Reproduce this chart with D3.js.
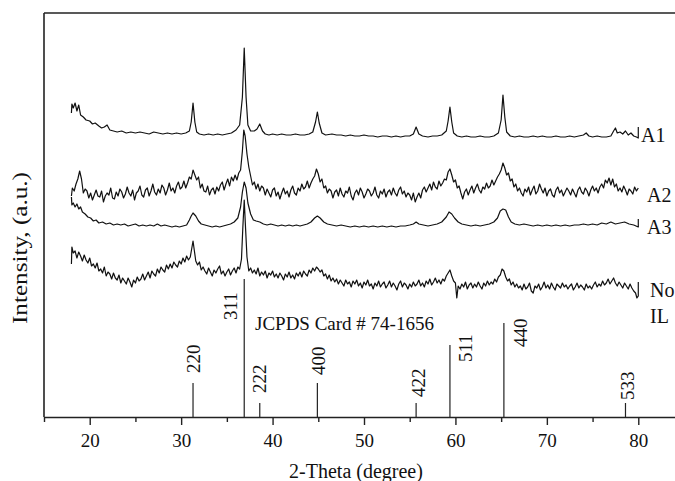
<!DOCTYPE html>
<html>
<head>
<meta charset="utf-8">
<script src="https://cdn.jsdelivr.net/npm/d3@7"></script>
<style>
  html, body { margin: 0; padding: 0; background: #fff; }
  svg { display: block; }
  text { font-family: "Liberation Serif", "Times New Roman", serif; fill: #111; }
</style>
</head>
<body>
<svg id="chart" width="675" height="481"></svg>
<script>
// ---------------- DATA ----------------
const majorTicks = [20, 30, 40, 50, 60, 70, 80];
const minorTicks = [15, 25, 35, 45, 55, 65, 75];
const seriesNames = ["A1", "A2", "A3", "No IL"];

// [2-theta, intensity (a.u.)]
const seriesA1 = [
  [18.0,304],[18.05,313],[18.2,309],[18.4,314],[18.6,306],[18.8,312],[19.0,302],[19.3,300],[19.6,297],
  [20.0,296],[20.3,293],[20.6,294],[21.0,291],[21.3,289],[21.6,290],[21.9,292],[22.2,287],[22.6,286],
  [23.0,285],[23.5,286],[24.0,284],[24.5,285],[25.0,284],[25.5,285],[26.0,284],[26.5,283],[27.0,285],
  [27.5,284],[28.0,283],[28.5,284],[29.0,283],[29.5,284],[30.0,283],[30.5,284],[30.9,286],[31.1,295],
  [31.3,314],[31.5,295],[31.7,285],[32.0,283],[32.5,282],[33.0,283],[33.5,282],[34.0,283],[34.5,282],
  [35.0,283],[35.5,284],[36.0,287],[36.4,292],[36.7,320],[36.9,369],[37.1,320],[37.3,292],[37.6,286],
  [38.0,286],[38.3,288],[38.6,293],[38.9,286],[39.2,283],[39.6,282],[40.0,283],[40.5,282],[41.0,283],
  [41.5,282],[42.0,282],[42.5,283],[43.0,282],[43.5,282],[44.0,283],[44.4,285],[44.7,295],[44.9,305],
  [45.1,294],[45.4,284],[45.8,282],[46.5,283],[47.0,282],[47.5,282],[48.0,281],[48.5,282],[49.0,281],
  [49.5,281],[50.0,282],[50.5,281],[51.0,281],[51.5,280],[52.0,281],[52.5,281],[53.0,280],[53.5,281],
  [54.0,280],[54.5,281],[55.0,281],[55.4,283],[55.7,290],[56.0,283],[56.4,281],[57.0,280],[57.5,281],
  [58.0,281],[58.5,282],[59.0,286],[59.2,296],[59.4,310],[59.6,295],[59.8,284],[60.2,281],[60.7,280],
  [61.2,281],[61.7,280],[62.2,280],[62.7,281],[63.2,280],[63.7,280],[64.2,281],[64.7,284],[65.0,297],
  [65.2,322],[65.4,300],[65.6,285],[66.0,281],[66.5,280],[67.0,281],[67.5,280],[68.0,280],[68.5,281],
  [69.0,280],[69.5,281],[70.0,280],[70.5,280],[71.0,281],[71.5,280],[72.0,280],[72.5,281],[73.0,280],
  [73.5,281],[74.0,282],[74.3,284],[74.6,281],[75.0,280],[75.5,281],[76.0,280],[76.5,280],[77.0,281],
  [77.3,286],[77.5,289],[77.7,284],[78.0,285],[78.3,283],[78.6,286],[78.9,282],[79.2,284],[79.5,281],
  [79.8,280],[80.0,279],[80.0,290]
];

const seriesA2 = [
  [18.0,221],[18.1,229],[18.3,226],[18.5,233],[18.7,238],[18.9,246],[19.1,238],[19.3,224],[19.5,228],
  [19.7,226],[19.9,219],[20.1,224],[20.3,217],[20.5,222],[20.7,227],[20.9,221],[21.1,220],[21.3,226],
  [21.5,215],[21.7,221],[21.9,224],[22.1,222],[22.3,229],[22.5,219],[22.7,218],[22.9,225],[23.1,221],
  [23.3,228],[23.5,225],[23.7,219],[23.9,223],[24.1,230],[24.3,224],[24.5,221],[24.7,227],[24.9,217],
  [25.1,224],[25.3,226],[25.5,231],[25.7,222],[25.9,220],[26.1,227],[26.3,229],[26.5,221],[26.7,226],
  [26.9,233],[27.1,225],[27.3,222],[27.5,228],[27.7,224],[27.9,232],[28.1,229],[28.3,222],[28.5,227],
  [28.7,234],[28.9,226],[29.1,229],[29.3,224],[29.5,231],[29.7,235],[29.9,228],[30.1,230],[30.3,236],
  [30.5,229],[30.7,234],[30.9,240],[31.1,238],[31.3,247],[31.5,242],[31.7,237],[31.9,240],[32.1,229],
  [32.3,233],[32.5,226],[32.7,225],[32.9,231],[33.1,222],[33.3,227],[33.5,229],[33.7,223],[33.9,230],
  [34.1,226],[34.3,232],[34.5,235],[34.7,227],[34.9,233],[35.1,238],[35.3,231],[35.5,240],[35.7,236],
  [35.9,242],[36.1,237],[36.3,244],[36.5,247],[36.7,266],[36.85,287],[37.0,281],[37.2,263],[37.4,250],
  [37.6,241],[37.8,232],[38.0,235],[38.2,228],[38.4,233],[38.6,226],[38.8,231],[39.0,229],[39.2,222],
  [39.4,228],[39.6,224],[39.8,220],[40.0,227],[40.2,229],[40.4,221],[40.6,225],[40.8,218],[41.0,224],
  [41.2,229],[41.4,223],[41.6,226],[41.8,220],[42.0,227],[42.2,231],[42.4,224],[42.6,222],[42.8,229],
  [43.0,226],[43.2,233],[43.4,228],[43.6,230],[43.8,236],[44.0,229],[44.2,234],[44.4,238],[44.6,241],
  [44.8,248],[45.0,243],[45.2,235],[45.4,238],[45.6,229],[45.8,231],[46.0,224],[46.2,228],[46.4,226],
  [46.6,219],[46.8,225],[47.0,227],[47.2,221],[47.4,229],[47.6,223],[47.8,220],[48.0,226],[48.2,224],
  [48.4,230],[48.6,221],[48.8,217],[49.0,224],[49.2,227],[49.4,222],[49.6,229],[49.8,225],[50.0,219],
  [50.2,223],[50.4,228],[50.6,226],[50.8,221],[51.0,224],[51.2,230],[51.4,222],[51.6,219],[51.8,226],
  [52.0,223],[52.2,228],[52.4,220],[52.6,225],[52.8,227],[53.0,222],[53.2,229],[53.4,224],[53.6,221],
  [53.8,227],[54.0,230],[54.2,223],[54.4,226],[54.6,220],[54.8,224],[55.0,222],[55.2,217],[55.4,224],
  [55.6,215],[55.8,220],[56.0,224],[56.2,219],[56.4,227],[56.6,230],[56.8,225],[57.0,229],[57.2,233],
  [57.4,227],[57.6,235],[57.8,230],[58.0,228],[58.2,236],[58.4,231],[58.6,234],[58.8,238],[59.0,237],
  [59.2,245],[59.4,248],[59.6,242],[59.8,235],[60.0,237],[60.2,229],[60.4,231],[60.6,224],[60.8,218],
  [61.0,225],[61.2,228],[61.4,222],[61.6,227],[61.8,231],[62.0,224],[62.2,229],[62.4,233],[62.6,227],
  [62.8,224],[63.0,230],[63.2,228],[63.4,234],[63.6,229],[63.8,231],[64.0,237],[64.2,232],[64.4,236],
  [64.6,240],[64.8,243],[65.0,247],[65.2,254],[65.4,249],[65.6,242],[65.8,244],[66.0,236],[66.2,238],
  [66.4,230],[66.6,233],[66.8,226],[67.0,229],[67.2,224],[67.4,221],[67.6,228],[67.8,225],[68.0,230],
  [68.2,222],[68.4,227],[68.6,231],[68.8,223],[69.0,226],[69.2,233],[69.4,228],[69.6,224],[69.8,229],
  [70.0,221],[70.2,226],[70.4,228],[70.6,222],[70.8,220],[71.0,227],[71.2,230],[71.4,224],[71.6,227],
  [71.8,221],[72.0,225],[72.2,229],[72.4,226],[72.6,222],[72.8,228],[73.0,224],[73.2,220],[73.4,227],
  [73.6,230],[73.8,225],[74.0,223],[74.2,229],[74.4,226],[74.6,221],[74.8,227],[75.0,231],[75.2,226],
  [75.4,229],[75.6,224],[75.8,230],[76.0,233],[76.2,229],[76.4,237],[76.6,234],[76.8,239],[77.0,232],
  [77.2,238],[77.4,230],[77.6,233],[77.8,226],[78.0,229],[78.2,225],[78.4,231],[78.6,227],[78.8,222],
  [79.0,228],[79.2,226],[79.4,223],[79.6,230],[79.8,226],[80.0,229]
];

const seriesA3 = [
  [18.0,220],[18.05,212],[18.2,214],[18.4,210],[18.6,213],[18.8,208],[19.0,210],[19.2,205],[19.5,203],
  [19.8,200],[20.1,199],[20.4,196],[20.7,197],[21.0,194],[21.4,195],[21.8,193],[22.2,194],[22.6,192],
  [23.0,193],[23.4,192],[23.8,193],[24.2,191],[24.6,192],[25.0,193],[25.4,191],[25.8,192],[26.2,191],
  [26.6,192],[27.0,191],[27.4,193],[27.8,191],[28.2,192],[28.6,191],[29.0,190],[29.4,191],[29.8,190],
  [30.2,191],[30.6,192],[30.9,197],[31.1,201],[31.3,204],[31.6,201],[31.9,196],[32.2,193],[32.6,192],
  [33.0,191],[33.4,190],[33.8,191],[34.2,190],[34.6,191],[35.0,192],[35.4,193],[35.8,195],[36.2,199],
  [36.5,210],[36.7,225],[36.9,235],[37.1,229],[37.3,214],[37.6,203],[37.9,197],[38.2,196],[38.6,195],
  [39.0,193],[39.4,192],[39.8,193],[40.2,192],[40.6,191],[41.0,192],[41.4,191],[41.8,192],[42.2,191],
  [42.6,192],[43.0,191],[43.4,192],[43.8,193],[44.2,195],[44.6,199],[44.9,201],[45.2,199],[45.6,195],
  [46.0,193],[46.5,192],[47.0,191],[47.5,192],[48.0,191],[48.5,190],[49.0,191],[49.5,190],[50.0,191],
  [50.5,190],[51.0,191],[51.5,190],[52.0,191],[52.5,190],[53.0,191],[53.5,190],[54.0,191],[54.5,191],
  [55.0,192],[55.4,193],[55.7,195],[56.0,193],[56.5,192],[57.0,191],[57.5,192],[58.0,193],[58.5,195],
  [59.0,200],[59.3,205],[59.6,203],[59.9,199],[60.3,195],[60.7,193],[61.2,192],[61.7,191],[62.2,192],
  [62.7,191],[63.2,192],[63.7,193],[64.2,195],[64.6,199],[64.9,206],[65.2,208],[65.5,207],[65.8,200],
  [66.1,195],[66.5,193],[67.0,192],[67.5,193],[68.0,192],[68.5,191],[69.0,192],[69.5,191],[70.0,192],
  [70.5,191],[71.0,192],[71.5,191],[72.0,192],[72.5,191],[73.0,192],[73.5,192],[74.0,193],[74.5,192],
  [75.0,193],[75.5,192],[76.0,194],[76.5,193],[77.0,195],[77.5,193],[78.0,194],[78.5,195],[79.0,193],
  [79.5,192],[80.0,190],[80.0,198]
];

const seriesNoIL = [
  [18.0,153],[18.05,170],[18.2,164],[18.4,166],[18.6,159],[18.8,165],[19.0,161],[19.2,156],[19.4,162],
  [19.6,157],[19.8,154],[20.0,159],[20.2,151],[20.4,153],[20.6,149],[20.8,154],[21.0,146],[21.2,148],
  [21.4,144],[21.6,150],[21.8,141],[22.0,145],[22.2,143],[22.4,138],[22.6,144],[22.8,139],[23.0,137],
  [23.2,142],[23.4,134],[23.6,139],[23.8,136],[24.0,133],[24.2,139],[24.4,135],[24.6,130],[24.8,137],
  [25.0,134],[25.2,140],[25.4,136],[25.6,138],[25.8,143],[26.0,137],[26.2,141],[26.4,145],[26.6,139],
  [26.8,146],[27.0,143],[27.2,141],[27.4,148],[27.6,144],[27.8,150],[28.0,147],[28.2,145],[28.4,152],
  [28.6,148],[28.8,153],[29.0,149],[29.2,155],[29.4,152],[29.6,150],[29.8,156],[30.0,153],[30.2,159],
  [30.4,155],[30.6,161],[30.8,157],[31.0,160],[31.15,168],[31.3,176],[31.45,166],[31.6,156],[31.8,152],
  [32.0,155],[32.2,147],[32.4,150],[32.6,146],[32.8,143],[33.0,149],[33.2,145],[33.4,141],[33.6,147],
  [33.8,144],[34.0,148],[34.2,151],[34.4,143],[34.6,146],[34.8,141],[35.0,145],[35.2,148],[35.4,142],
  [35.6,146],[35.8,149],[36.0,144],[36.2,150],[36.4,148],[36.6,158],[36.75,190],[36.9,217],[37.05,188],
  [37.2,160],[37.4,146],[37.6,149],[37.8,144],[38.0,147],[38.2,143],[38.4,149],[38.6,141],[38.8,145],
  [39.0,142],[39.2,146],[39.4,139],[39.6,144],[39.8,142],[40.0,146],[40.2,140],[40.4,143],[40.6,139],
  [40.8,144],[41.0,141],[41.2,137],[41.4,143],[41.6,140],[41.8,145],[42.0,139],[42.2,142],[42.4,138],
  [42.6,144],[42.8,141],[43.0,145],[43.2,140],[43.4,146],[43.6,143],[43.8,141],[44.0,147],[44.2,144],
  [44.4,149],[44.6,146],[44.8,150],[45.0,148],[45.2,145],[45.4,147],[45.6,141],[45.8,143],[46.0,138],
  [46.2,142],[46.4,136],[46.6,139],[46.8,135],[47.0,138],[47.2,133],[47.4,137],[47.6,134],[47.8,131],
  [48.0,137],[48.2,133],[48.4,135],[48.6,130],[48.8,136],[49.0,133],[49.2,137],[49.4,131],[49.6,134],
  [49.8,129],[50.0,135],[50.2,132],[50.4,137],[50.6,131],[50.8,133],[51.0,128],[51.2,134],[51.4,131],
  [51.6,136],[51.8,130],[52.0,133],[52.2,135],[52.4,129],[52.6,132],[52.8,136],[53.0,130],[53.2,134],
  [53.4,131],[53.6,127],[53.8,133],[54.0,136],[54.2,130],[54.4,134],[54.6,132],[54.8,128],[55.0,133],
  [55.2,130],[55.4,135],[55.6,131],[55.8,133],[56.0,137],[56.2,131],[56.4,134],[56.6,130],[56.8,136],
  [57.0,133],[57.2,138],[57.4,132],[57.6,135],[57.8,139],[58.0,134],[58.2,137],[58.4,133],[58.6,138],
  [58.8,136],[59.0,141],[59.2,144],[59.4,147],[59.6,141],[59.8,136],[60.0,134],[60.15,119],[60.3,131],
  [60.5,128],[60.7,133],[60.9,130],[61.1,135],[61.3,128],[61.5,132],[61.7,134],[61.9,129],[62.1,133],
  [62.3,130],[62.5,135],[62.7,131],[62.9,128],[63.1,134],[63.3,131],[63.5,136],[63.7,132],[63.9,135],
  [64.1,133],[64.3,138],[64.5,135],[64.7,140],[64.9,142],[65.1,148],[65.3,146],[65.5,140],[65.7,136],
  [65.9,138],[66.1,132],[66.3,135],[66.5,130],[66.7,133],[66.9,129],[67.1,131],[67.3,127],[67.5,133],
  [67.7,128],[67.9,130],[68.1,134],[68.3,126],[68.5,124],[68.7,131],[68.9,129],[69.1,133],[69.3,127],
  [69.5,130],[69.7,135],[69.9,129],[70.1,132],[70.3,128],[70.5,134],[70.7,130],[70.9,127],[71.1,133],
  [71.3,131],[71.5,129],[71.7,134],[71.9,130],[72.1,132],[72.3,128],[72.5,131],[72.7,133],[72.9,127],
  [73.1,130],[73.3,134],[73.5,129],[73.7,132],[73.9,130],[74.1,127],[74.3,133],[74.5,129],[74.7,131],
  [74.9,128],[75.1,132],[75.3,135],[75.5,130],[75.7,133],[75.9,131],[76.1,136],[76.3,132],[76.5,134],
  [76.7,138],[76.9,133],[77.1,136],[77.3,139],[77.5,134],[77.7,131],[77.9,135],[78.1,132],[78.3,129],
  [78.5,134],[78.7,131],[78.9,128],[79.1,133],[79.3,129],[79.5,126],[79.7,124],[79.85,119],[80.0,121],
  [80.0,135]
];

// JCPDS Card # 74-1656 reference lines
const hklLabels = ["220", "311", "222", "400", "422", "511", "440", "533"];
const hklTwoTheta = [31.3, 36.9, 38.6, 44.9, 55.7, 59.4, 65.3, 78.6];
const hklIntensity = [34, 138, 14, 34, 14, 72, 94, 14];

// ---------------- LAYOUT (not data) ----------------
const W = 675, H = 481;
const plot = { left: 44, top: 13, right: 684, bottom: 417 };
// label placement for each reference line: [dx from line, bottom y in px]
const hklLabelLayout = [[0, 373], [-14, 320], [0, 393], [1, 375], [2, 397], [15, 362], [16, 347], [2, 400]];
const seriesLabelLayout = [
  [{ t: "A1", x: 641, y: 142 }],
  [{ t: "A2", x: 647, y: 202 }],
  [{ t: "A3", x: 647, y: 234 }],
  [{ t: "No", x: 650, y: 297 }, { t: "IL", x: 650, y: 323 }]
];

const svg = d3.select("#chart");
svg.append("rect").attr("width", W).attr("height", H).attr("fill", "#fff");

const x = d3.scaleLinear().domain([15, 85]).range([plot.left, plot.right]);
const y = d3.scaleLinear().domain([0, 404]).range([plot.bottom, plot.top]);

// frame: top & left
svg.append("line").attr("x1", plot.left).attr("x2", W).attr("y1", plot.top).attr("y2", plot.top)
  .attr("stroke", "#222").attr("stroke-width", 1.6);
svg.append("line").attr("x1", plot.left).attr("x2", plot.left).attr("y1", plot.top).attr("y2", plot.bottom)
  .attr("stroke", "#222").attr("stroke-width", 1.6);

// bottom axis (major)
const gx = svg.append("g").attr("transform", `translate(0,${plot.bottom})`)
  .call(d3.axisBottom(x).tickValues(majorTicks).tickSize(8).tickSizeOuter(0).tickPadding(9).tickFormat(d3.format("d")));
gx.select(".domain").attr("stroke", "#222").attr("stroke-width", 1.6);
gx.selectAll(".tick line").attr("stroke", "#222").attr("stroke-width", 1.4);
gx.selectAll(".tick text").attr("font-size", 19).attr("font-family", "Liberation Serif, serif").attr("fill", "#111");

// minor ticks
const gm = svg.append("g").attr("transform", `translate(0,${plot.bottom})`)
  .call(d3.axisBottom(x).tickValues(minorTicks).tickSize(5).tickSizeOuter(0).tickFormat(""));
gm.select(".domain").remove();
gm.selectAll(".tick line").attr("stroke", "#222").attr("stroke-width", 1.4);

// axis titles
svg.append("text").attr("x", 356).attr("y", 478).attr("text-anchor", "middle")
  .attr("font-size", 20).text("2-Theta (degree)");
svg.append("text").attr("transform", "translate(27,248) rotate(-90)").attr("text-anchor", "middle")
  .attr("font-size", 20).attr("textLength", 152).attr("lengthAdjust", "spacingAndGlyphs")
  .text("Intensity, (a.u.)");

// reference lines
const sticks = hklLabels.map((h, i) => ({ h, t: hklTwoTheta[i], v: hklIntensity[i], lay: hklLabelLayout[i] }));
svg.append("g").selectAll("line").data(sticks).join("line")
  .attr("x1", d => x(d.t)).attr("x2", d => x(d.t))
  .attr("y1", y(0)).attr("y2", d => y(d.v))
  .attr("stroke", "#222").attr("stroke-width", 1.2);
svg.append("g").selectAll("text").data(sticks).join("text")
  .attr("transform", d => `translate(${x(d.t) + d.lay[0]},${d.lay[1]}) rotate(-90)`)
  .attr("dy", "0.35em").attr("font-size", 19).text(d => d.h);

svg.append("text").attr("x", 255).attr("y", 330).attr("font-size", 19).text("JCPDS Card # 74-1656");

// curves
const line = d3.line().x(d => x(d[0])).y(d => y(d[1]));
const allSeries = [seriesA1, seriesA2, seriesA3, seriesNoIL];
svg.append("g").selectAll("path").data(allSeries).join("path")
  .attr("d", line).attr("fill", "none").attr("stroke", "#111")
  .attr("stroke-width", 1.2).attr("stroke-linejoin", "round");

// series labels
seriesLabelLayout.forEach((arr, i) => {
  arr.forEach(l => {
    svg.append("text").attr("x", l.x).attr("y", l.y).attr("font-size", 20).text(l.t)
      .attr("data-series", seriesNames[i]);
  });
});
</script>
</body>
</html>
